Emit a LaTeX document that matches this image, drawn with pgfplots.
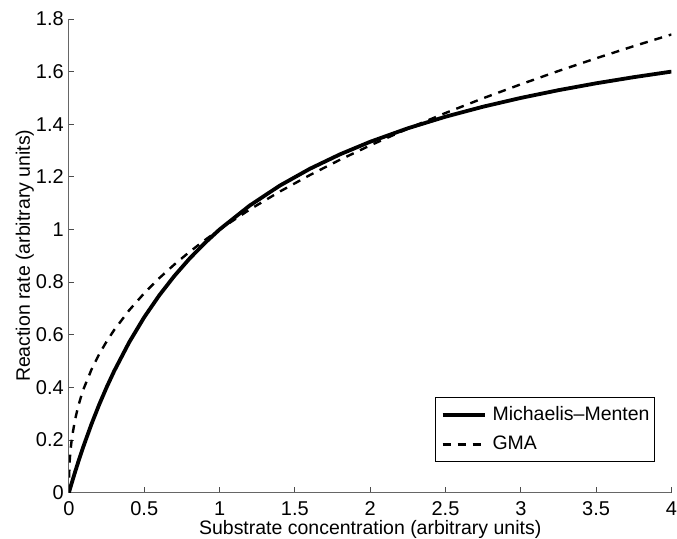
\documentclass[border=0pt]{standalone}
\usepackage{pgfplots}
\pgfplotsset{compat=1.18}
\usepackage{fontspec}
\setmainfont{Liberation Sans}
\begin{document}
\fontsize{19.5}{23}\selectfont
\begin{tikzpicture}
\begin{axis}[
  name=ax,
  scale only axis, width=603pt, height=474pt,
  xmin=0, xmax=4, ymin=0, ymax=1.8,
  axis lines=left, axis line style={-, black!60, line width=0.9pt},
  tick align=inside, major tick length=5.5pt,
  tick style={black!70, line width=0.9pt},
  xtick={0,0.5,1,1.5,2,2.5,3,3.5,4},
  ytick={0,0.2,0.4,0.6,0.8,1,1.2,1.4,1.6,1.8},
  /pgf/number format/assume math mode=true,
  ticklabel style={font=\fontsize{20}{23}\selectfont, inner xsep=0pt},
  xticklabel style={yshift=-2pt},
  yticklabel style={xshift=-5pt},
  label style={font=\fontsize{19.5}{23}\selectfont, inner sep=0pt},
  xlabel={Substrate concentration (arbitrary units)},
  ylabel={Reaction rate (arbitrary units)},
  xlabel style={at={(axis description cs:0.5,-0.0886)}, anchor=base},
  ylabel style={at={(axis description cs:-0.0647,0.5)}, anchor=base, rotate=0},
  legend style={at={(rel axis cs:0.972,0.065)}, anchor=south east, draw=black, line width=0.9pt,
    outer sep=0pt,
    font=\fontsize{19.5}{23}\selectfont, row sep=13pt, column sep=6pt,
    inner xsep=5pt, inner ysep=9pt, nodes={inner sep=0pt, anchor=west}},
  legend cell align=left,
  legend image code/.code={\draw[#1] (0pt,0pt) -- (42pt,0pt);},
]
\addplot[black, line width=3.8pt, line join=round] coordinates {
(0,0) (0.01,0.0198) (0.02,0.0392) (0.04,0.0769) (0.06,0.1132) (0.08,0.1481)
(0.1,0.1818) (0.15,0.2609) (0.2,0.3333) (0.25,0.4) (0.3,0.4615) (0.4,0.5714)
(0.5,0.6667) (0.6,0.75) (0.7,0.8235) (0.8,0.8889) (0.9,0.9474) (1,1)
(1.2,1.0909) (1.4,1.1667) (1.6,1.2308) (1.8,1.2857) (2,1.3333) (2.25,1.3846)
(2.5,1.4286) (2.75,1.4667) (3,1.5) (3.25,1.5294) (3.5,1.5556) (3.75,1.5789) (4,1.6)
};
\addlegendentry{Michaelis--Menten}
\addplot[black, line width=2.4pt, dash pattern=on 8pt off 7pt] coordinates {
(0,0) (0.001,0.0631) (0.005,0.1201) (0.01,0.1585) (0.02,0.2091) (0.04,0.2759)
(0.06,0.3245) (0.08,0.3641) (0.1,0.3981) (0.15,0.4682) (0.2,0.5253) (0.25,0.5743)
(0.3,0.6178) (0.4,0.6931) (0.5,0.7579) (0.6,0.8152) (0.7,0.8670) (0.8,0.9146)
(0.9,0.9587) (1,1) (1.2,1.0757) (1.4,1.1441) (1.6,1.2069) (1.8,1.2651) (2,1.3195)
(2.25,1.3832) (2.5,1.4427) (2.75,1.4988) (3,1.5518) (3.25,1.6024) (3.5,1.6506)
(3.75,1.6968) (4,1.7411)
};
\addlegendentry{GMA}
\end{axis}
\path (ax.south west) ++(-69pt,-46pt);
\path (ax.north east) ++(5pt,19pt);
\end{tikzpicture}
\end{document}
